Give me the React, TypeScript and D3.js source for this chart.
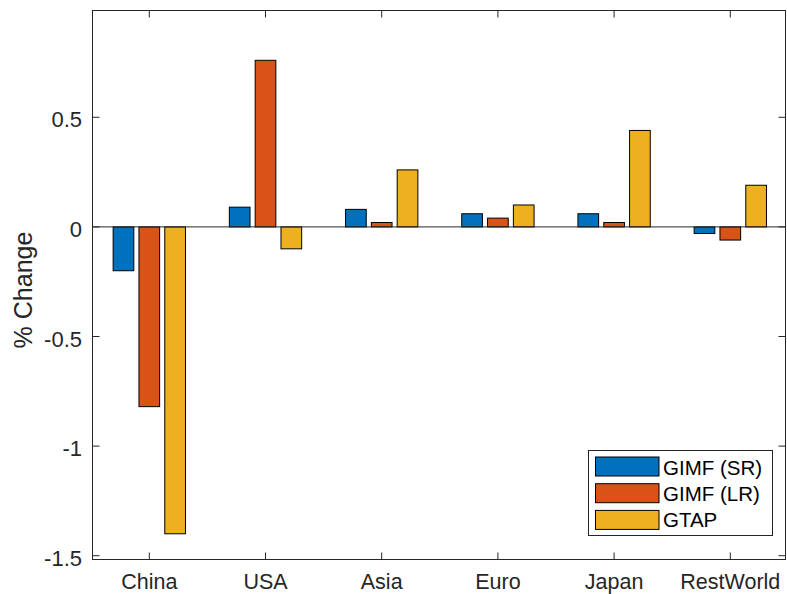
import React from "react";
import * as d3 from "d3";

const categories = ["China", "USA", "Asia", "Euro", "Japan", "RestWorld"];
const seriesNames = ["GIMF (SR)", "GIMF (LR)", "GTAP"];
const gimfSR = [-0.2, 0.09, 0.08, 0.06, 0.06, -0.03];
const gimfLR = [-0.82, 0.76, 0.02, 0.04, 0.02, -0.06];
const gtap = [-1.4, -0.1, 0.26, 0.1, 0.44, 0.19];
const yTicks = [-1.5, -1, -0.5, 0, 0.5];
const colors = ["#0072BD", "#D95319", "#EDB120"];

export default function App() {
  const W = 787, H = 594;
  const left = 92.5, right = 785.5, top = 10.5, bottom = 559.5;
  const series = [gimfSR, gimfLR, gtap];
  const x = d3.scaleLinear().domain([1, 6]).range([149.3, 730.3]);
  const y = d3.scaleLinear().domain([-1.5, 0.5]).range([555.7, 117.3]);
  const unit = x(2) - x(1);
  const offsets = [-0.2222, 0, 0.2222];
  const bw = 0.178 * unit;
  const axisColor = "#262626";
  const font = "'Liberation Sans', Arial, Helvetica, sans-serif";
  const tickLen = 7;
  const tickFont = 22;

  return (
    <svg width={W} height={H} style={{ position: "absolute", left: 0, top: 0, background: "#fff" }}>
      <rect x={0} y={0} width={W} height={H} fill="#fff" />
      {series.map((vals, si) =>
        vals.map((v, ci) => {
          const cx = x(ci + 1 + offsets[si]);
          const y0 = y(0), y1 = y(v);
          return (
            <rect
              key={`${si}-${ci}`}
              x={cx - bw / 2}
              y={Math.min(y0, y1)}
              width={bw}
              height={Math.abs(y1 - y0)}
              fill={colors[si]}
              stroke="#000"
              strokeWidth={1}
            />
          );
        })
      )}
      <line x1={left} x2={right} y1={y(0)} y2={y(0)} stroke="#262626" strokeWidth={1} />
      <rect x={left} y={top} width={right - left} height={bottom - top} fill="none" stroke={axisColor} strokeWidth={1} />
      {yTicks.map((t) => (
        <g key={t}>
          <line x1={left} x2={left + tickLen} y1={y(t)} y2={y(t)} stroke={axisColor} />
          <line x1={right} x2={right - tickLen} y1={y(t)} y2={y(t)} stroke={axisColor} />
          <text x={82} y={y(t) + 10} textAnchor="end" fontFamily={font} fontSize={tickFont} fill={axisColor}>
            {t}
          </text>
        </g>
      ))}
      {categories.map((c, i) => (
        <g key={c}>
          <line x1={x(i + 1)} x2={x(i + 1)} y1={bottom} y2={bottom - tickLen} stroke={axisColor} />
          <line x1={x(i + 1)} x2={x(i + 1)} y1={top} y2={top + tickLen} stroke={axisColor} />
          <text x={x(i + 1)} y={588.5} textAnchor="middle" fontFamily={font} fontSize={21.5} fill={axisColor}>
            {c}
          </text>
        </g>
      ))}
      <text
        transform={`translate(32,290) rotate(-90)`}
        textAnchor="middle"
        fontFamily={font}
        fontSize={25}
        fill={axisColor}
      >
        % Change
      </text>
      <g>
        <rect x={588.5} y={450.5} width={184} height={85} fill="#fff" stroke={axisColor} strokeWidth={1} />
        {seriesNames.map((n, i) => (
          <g key={n}>
            <rect x={595.5} y={457 + i * 26.7} width={63.5} height={19} fill={colors[i]} stroke="#000" strokeWidth={1} />
            <text x={663} y={475 + i * 26.2} fontFamily={font} fontSize={20.5} fill="#000">
              {n}
            </text>
          </g>
        ))}
      </g>
    </svg>
  );
}
